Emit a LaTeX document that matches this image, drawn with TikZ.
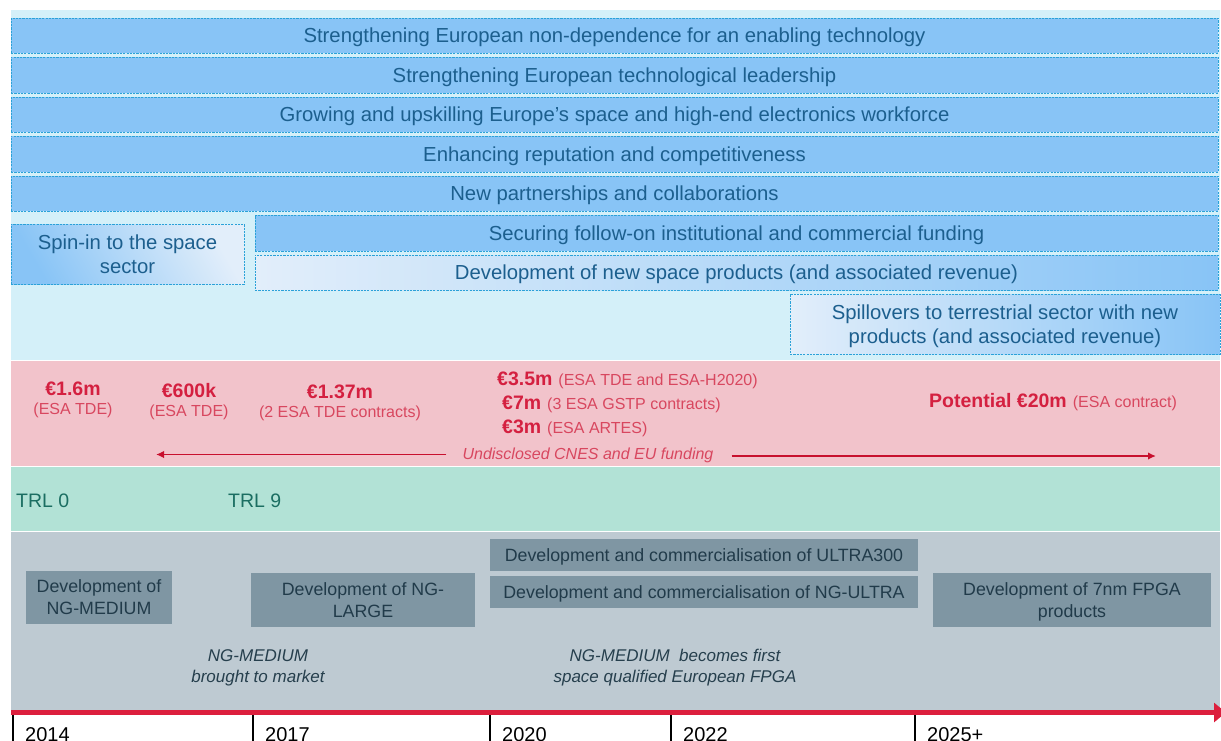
\documentclass[tikz,border=0pt]{standalone}
\usepackage{fontspec}
\setmainfont{Liberation Sans}
\usetikzlibrary{arrows.meta}
\definecolor{impactbg}{HTML}{D4F0F9}
\definecolor{barblue}{HTML}{88C4F6}
\definecolor{barlight}{HTML}{E2EEFA}
\definecolor{dashblue}{HTML}{2AA2D8}
\definecolor{bartext}{HTML}{1C5F8E}
\definecolor{fundbg}{HTML}{F2C3CB}
\definecolor{fundtext}{HTML}{D42040}
\definecolor{fundsub}{HTML}{D8475F}
\definecolor{fundline}{HTML}{C8102E}
\definecolor{trlbg}{HTML}{B2E2D6}
\definecolor{trltext}{HTML}{1B6E62}
\definecolor{prodbg}{HTML}{BECAD2}
\definecolor{prodbox}{HTML}{7F96A3}
\definecolor{prodtext}{HTML}{213B4A}
\definecolor{notetext}{HTML}{263F4D}
\definecolor{axisred}{HTML}{DC1F3D}

\begin{document}
\begin{tikzpicture}[x=1pt,y=-1pt,
  band/.style={anchor=north west, inner sep=0pt, outer sep=0pt, draw=none},
  outcome/.style={draw=dashblue, dash pattern=on 2.2pt off 1.1pt, line width=0.9pt,
    fill=barblue, text=bartext, font=\fontsize{20.3}{24}\selectfont,
    text height=14.5pt, text depth=0pt,
    inner sep=0pt, outer sep=0pt, anchor=north west, align=center},
  twolines/.style={text height=38.5pt, text depth=0pt},
  fadeleft/.style={outcome, fill=none, left color=barlight, right color=barblue},
  fundbig/.style={text=fundtext, font=\bfseries\fontsize{19.5}{23}\selectfont, inner sep=0pt, anchor=base},
  fundsmall/.style={text=fundsub, font=\fontsize{16}{19}\selectfont, inner sep=0pt, anchor=base},
  fundline/.style={text=fundsub, font=\fontsize{16}{19}\selectfont, inner sep=0pt, anchor=base west},
  fundarrow/.style={draw=fundline, line width=1.9pt, -{Latex[length=8pt,width=7.5pt]}},
  trl/.style={text=trltext, font=\fontsize{19.5}{23}\selectfont, inner sep=0pt, anchor=base west},
  devbox/.style={fill=prodbox, text=prodtext, font=\fontsize{17.8}{22}\selectfont,
    text height=12.9pt, text depth=0pt,
    inner sep=0pt, outer sep=0pt, anchor=north west, align=center},
  devtwo/.style={text height=34.9pt, text depth=0pt},
  milestone/.style={text=notetext, font=\itshape\fontsize{17}{21}\selectfont,
    text height=33.2pt, text depth=0pt, inner sep=0pt, align=center, anchor=north},
  year/.style={text=black, font=\fontsize{20}{24}\selectfont, inner sep=0pt, anchor=base west},
  yeartick/.style={draw=black, line width=1.3pt},
  timeline/.style={draw=axisred, line width=5pt, -{Triangle[length=12pt,width=19pt]}}
]
\useasboundingbox (0,0) rectangle (1221,740);

% background bands
\node[band, fill=impactbg, minimum width=1209pt, minimum height=350pt] (impactband) at (11,10) {};
\node[band, fill=fundbg, minimum width=1209pt, minimum height=105pt] (fundband) at (11,361) {};
\node[band, fill=trlbg, minimum width=1209pt, minimum height=64pt] (trlband) at (11,467) {};
\node[band, fill=prodbg, minimum width=1209pt, minimum height=178pt] (prodband) at (11,532) {};

% impacts
\node[outcome, minimum width=1207pt, minimum height=35pt] (o1) at (11,18) {Strengthening European non-dependence for an enabling technology};
\node[outcome, minimum width=1207pt, minimum height=36pt] (o2) at (11,57) {Strengthening European technological leadership};
\node[outcome, minimum width=1207pt, minimum height=35pt] (o3) at (11,97) {Growing and upskilling Europe’s space and high-end electronics workforce};
\node[outcome, minimum width=1207pt, minimum height=36pt] (o4) at (11,136) {Enhancing reputation and competitiveness};
\node[outcome, minimum width=1207pt, minimum height=35pt] (o5) at (11,176) {New partnerships and collaborations};
\node[outcome, twolines, fill=none, left color=barblue, right color=barlight, shading angle=120,
      minimum width=233pt, minimum height=60pt] (spin) at (11,224) {Spin-in to the space\\sector};
\node[outcome, minimum width=963pt, minimum height=36pt] (secure) at (255,215) {Securing follow-on institutional and commercial funding};
\node[fadeleft, minimum width=963pt, minimum height=35pt] (newprod) at (255,255) {Development of new space products (and associated revenue)};
\node[fadeleft, twolines, minimum width=430pt, minimum height=60pt] (spill) at (790,294) {Spillovers to terrestrial sector with new\\products (and associated revenue)};

% funding
\node[fundbig] (f1) at (73,395) {€1.6m};
\node[fundsmall] (f1s) at (73,414) {(ESA TDE)};
\node[fundbig] (f2) at (189,397) {€600k};
\node[fundsmall] (f2s) at (189,416) {(ESA TDE)};
\node[fundbig] (f3) at (340,398) {€1.37m};
\node[fundsmall] (f3s) at (340,417) {(2 ESA TDE contracts)};
\node[fundline] (f4) at (497,385) {{\bfseries\fontsize{19.5}{23}\selectfont\color{fundtext}€3.5m}\hspace{6pt}(ESA TDE and ESA-H2020)};
\node[fundline] (f5) at (502,409) {{\bfseries\fontsize{19.5}{23}\selectfont\color{fundtext}€7m}\hspace{6pt}(3 ESA GSTP contracts)};
\node[fundline] (f6) at (502,433) {{\bfseries\fontsize{19.5}{23}\selectfont\color{fundtext}€3m}\hspace{6pt}(ESA ARTES)};
\node[fundline] (f7) at (929,407) {{\bfseries\fontsize{19.5}{23}\selectfont\color{fundtext}Potential €20m}\hspace{6pt}(ESA contract)};
\node[fundsmall, font=\itshape\fontsize{16}{19}\selectfont] (undisc) at (588,459) {Undisclosed CNES and EU funding};
\coordinate (fundL) at (156,454.5);
\coordinate (fundR) at (1156,456);
\draw[fundarrow] ([xshift=-16pt]undisc.west |- fundL) -- (fundL);
\draw[fundarrow] ([xshift=18pt]undisc.east |- fundR) -- (fundR);

% technology readiness
\node[trl] (trl0) at (16,507) {TRL 0};
\node[trl] (trl9) at (228,507) {TRL 9};

% products
\node[devbox, devtwo, minimum width=146pt, minimum height=53pt] (ngmed) at (26,571) {Development of\\NG-MEDIUM};
\node[devbox, devtwo, minimum width=224pt, minimum height=54pt] (nglarge) at (251,573) {Development of NG-\\LARGE};
\node[devbox, minimum width=428pt, minimum height=32pt] (ultra300) at (490,539) {Development and commercialisation of ULTRA300};
\node[devbox, minimum width=428pt, minimum height=32pt] (ngultra) at (490,576) {Development and commercialisation of NG-ULTRA};
\node[devbox, devtwo, minimum width=278pt, minimum height=54pt] (fpga7) at (933,573) {Development of 7nm FPGA\\products};
\node[milestone] (m1) at (258,648.8) {NG-MEDIUM\\brought to market};
\node[milestone] (m2) at (675,648.8) {NG-MEDIUM\ \ becomes first\\space qualified European FPGA};

% time axis
\coordinate (t0) at (11,712.5);
\coordinate (t1) at (1226,712.5);
\draw[timeline] (t0) -- (t1);
\foreach \x/\yr in {13/2014, 253/2017, 490/2020, 671/2022, 915/2025+}{
  \coordinate (tick\x) at (\x,715);
  \coordinate (tickend\x) at (\x,742);
  \draw[yeartick] (tick\x) -- (tickend\x);
  \node[year] (yr\x) at (\x+12,741) {\yr};
}
\end{tikzpicture}
\end{document}
